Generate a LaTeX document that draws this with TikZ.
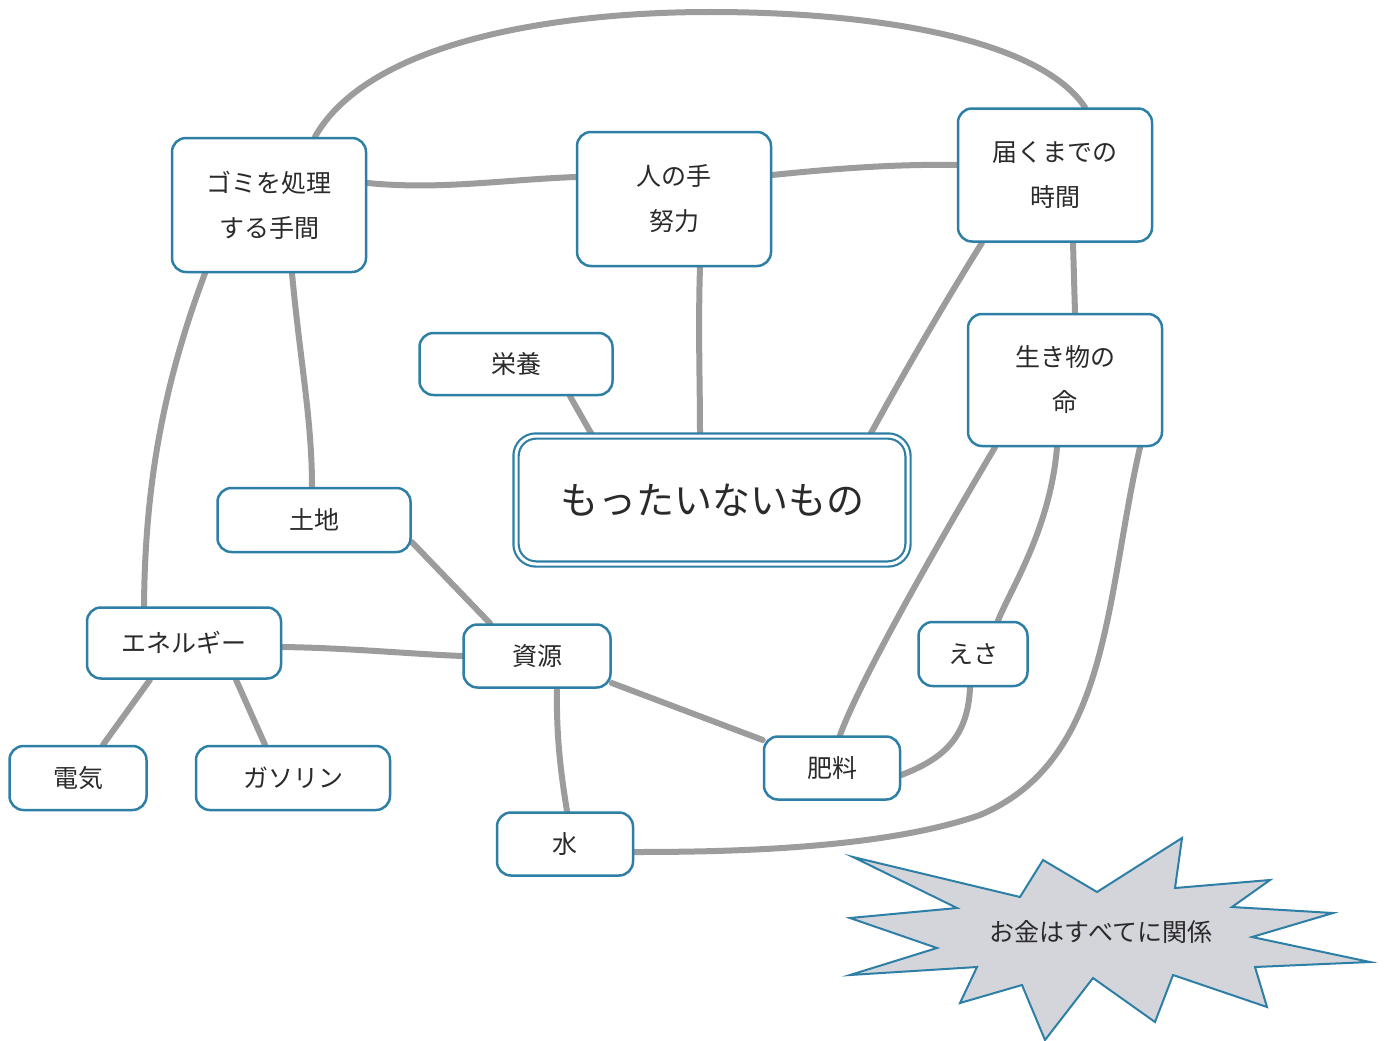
\documentclass[tikz,border=0pt]{standalone}
\usepackage{fontspec}
\setmainfont{Noto Sans CJK JP}
\usetikzlibrary{calc}
\pgfdeclarelayer{bg}
\pgfsetlayers{bg,main}
\definecolor{boxblue}{HTML}{2E7FA6}
\definecolor{linegray}{HTML}{9C9C9C}
\definecolor{burstfill}{HTML}{D4D5DB}
\definecolor{txt}{HTML}{2A2A2A}
\begin{document}
\begin{tikzpicture}[x=1pt,y=-1pt,
  box/.style={draw=boxblue, line width=2.5pt, rounded corners=14pt, fill=white, align=center, text=txt,
    font=\fontsize{25}{45}\selectfont, inner sep=0pt},
  conn/.style={draw=linegray, line width=6pt, line cap=round}]
\useasboundingbox (0,0) rectangle (1384,1041);

% nodes
\node[box, minimum width=194pt, minimum height=134pt] (gomi) at (269,205) {ゴミを処理\\する手間};
\node[box, minimum width=194pt, minimum height=134pt] (hito) at (674,199) {人の手\\努力};
\node[box, minimum width=194pt, minimum height=133pt] (todoku) at (1055,175) {届くまでの\\時間};
\node[box, minimum width=194pt, minimum height=132pt] (ikimono) at (1065,380) {生き物の\\命};
\node[box, minimum width=193pt, minimum height=62pt] (eiyou) at (516,364) {栄養};
\node[draw=boxblue, double=white, double distance=3pt, line width=2.2pt, rounded corners=20pt, fill=white,
  minimum width=392pt, minimum height=128pt, text=txt, font=\fontsize{38}{40}\selectfont] (mottai) at (712,500) {もったいないもの};
\node[box, minimum width=193pt, minimum height=64pt] (tochi) at (314,520) {土地};
\node[box, minimum width=194pt, minimum height=71pt] (energy) at (184,643) {エネルギー};
\node[box, minimum width=147pt, minimum height=63pt] (shigen) at (537,656) {資源};
\node[box, minimum width=109pt, minimum height=64pt] (esa) at (973,654) {えさ};
\node[box, minimum width=136pt, minimum height=63pt] (hiryou) at (832,768) {肥料};
\node[box, minimum width=137pt, minimum height=64pt] (denki) at (78,778) {電気};
\node[box, minimum width=194pt, minimum height=64pt] (gasorin) at (293,778) {ガソリン};
\node[box, minimum width=136pt, minimum height=63pt] (mizu) at (565,844) {水};

% starburst
\filldraw[draw=boxblue, fill=burstfill, line width=2pt, line join=miter]
  (853,857) -- (1020,897) -- (1043,860) -- (1097,892) -- (1182,838) -- (1175,888)
  -- (1270,880) -- (1232,907) -- (1333,913) -- (1252,937) -- (1370,962) -- (1255,967)
  -- (1267,1007) -- (1173,975) -- (1155,1022) -- (1093,978) -- (1045,1040) -- (1022,985)
  -- (960,1003) -- (977,967) -- (850,975) -- (937,948) -- (850,918) -- (957,908) -- cycle;
\node[text=txt, font=\fontsize{25}{30}\selectfont] (okane) at (1101,932) {お金はすべてに関係};

% connectors
\begin{pgfonlayer}{bg}
\fill[white] (0,0) rectangle (1384,1041);
\draw[conn] ([xshift=46pt]gomi.north) .. controls (370,40) and (560,12) .. (710,12)
  .. controls (880,12) and (1040,40) .. ([xshift=30pt]todoku.north);
\draw[conn] ([yshift=22pt]gomi.east) .. controls (440,190) and (500,180) .. ([yshift=22pt]hito.west);
\draw[conn] ([yshift=24pt]hito.east) .. controls (840,168) and (900,164) .. ([yshift=10pt]todoku.west);
\draw[conn] ([xshift=26pt]hito.south) .. controls (698,330) and (700,380) .. ([xshift=-12pt]mottai.north);
\draw[conn] ([xshift=54pt]eiyou.south) -- ([xshift=-120pt]mottai.north);
\draw[conn] ([xshift=-73pt]todoku.south) .. controls (940,310) and (900,380) .. ([xshift=158pt]mottai.north);
\draw[conn] ([xshift=18pt]todoku.south) -- ([xshift=10pt]ikimono.north);
\draw[conn] ([xshift=23pt]gomi.south) .. controls (300,360) and (312,420) .. ([xshift=-2pt]tochi.north);
\draw[conn] ([xshift=-64pt]gomi.south) .. controls (165,380) and (145,480) .. ([xshift=-40pt]energy.north);
\draw[conn] ([yshift=-22pt]tochi.east) -- ([xshift=-47pt]shigen.north);
\draw[conn] ([yshift=-4pt]energy.east) .. controls (350,648) and (410,654) .. (shigen.west);
\draw[conn] ([xshift=-34pt]energy.south) -- ([xshift=25pt]denki.north);
\draw[conn] ([xshift=52pt]energy.south) -- ([xshift=-28pt]gasorin.north);
\draw[conn] ([xshift=20pt]shigen.south) .. controls (556,740) and (562,780) .. ([xshift=2pt]mizu.north);
\draw[conn] ([yshift=-27pt]shigen.east) -- ([yshift=28pt]hiryou.west);
\draw[conn] ([xshift=-70pt]ikimono.south) .. controls (940,540) and (860,680) .. ([xshift=8pt]hiryou.north);
\draw[conn] ([xshift=-8pt]ikimono.south) .. controls (1050,530) and (1010,590) .. ([xshift=25pt]esa.north);
\draw[conn] ([xshift=-3pt]esa.south) .. controls (968,740) and (940,760) .. ([yshift=-7pt]hiryou.east);
\draw[conn] ([xshift=75pt]ikimono.south) .. controls (1105,600) and (1110,760) .. (980,815)
  .. controls (880,850) and (720,852) .. ([yshift=-8pt]mizu.east);
\end{pgfonlayer}
\end{tikzpicture}
\end{document}
